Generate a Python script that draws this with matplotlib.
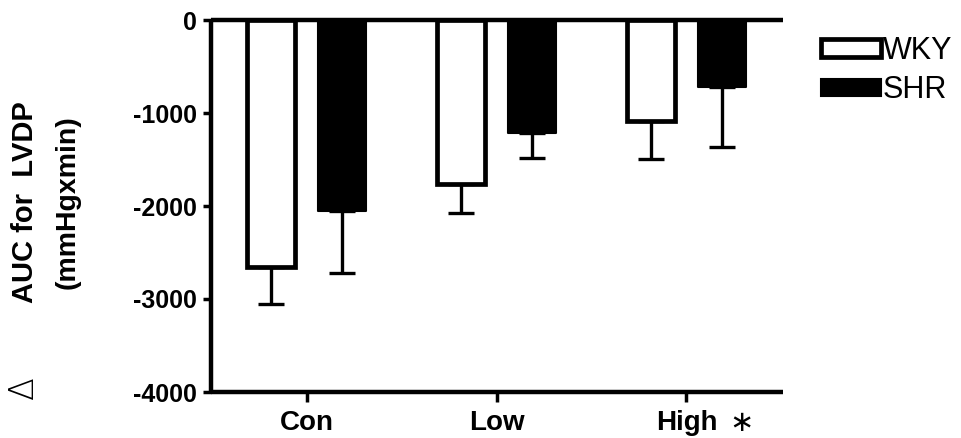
import numpy as np
import matplotlib.pyplot as plt

plt.rcParams['font.family'] = ['Liberation Sans', 'DejaVu Sans']
plt.rcParams['axes.unicode_minus'] = False

groups = ['Con', 'Low', 'High']
wky = [-2660, -1760, -1090]
wky_err = [390, 320, 400]
shr = [-2050, -1220, -720]
shr_err = [670, 260, 650]

x = np.arange(len(groups))
w = 0.25
off = 0.187

fig = plt.figure(figsize=(9.61, 4.38), dpi=100)
ax = fig.add_axes([211/961, 46/438, 572/961, 372/438])

lw = 3.2
ax.bar(x - off, wky, w, color='white', edgecolor='black', linewidth=3.4, zorder=3)
ax.bar(x + off, shr, w, color='black', edgecolor='black', linewidth=1.5,
       joinstyle='round', zorder=3)
ax.errorbar(x - off, wky, yerr=[wky_err, [0]*3], fmt='none', ecolor='black',
            elinewidth=2.4, capsize=9.5, capthick=2.4, zorder=2)
ax.errorbar(x + off, shr, yerr=[shr_err, [0]*3], fmt='none', ecolor='black',
            elinewidth=2.4, capsize=9.5, capthick=2.4, zorder=2)

ax.set_xlim(-0.503, 2.508)
ax.set_ylim(-4000, 0)
ax.set_yticks([0, -1000, -2000, -3000, -4000])
ax.set_xticks(x)
ax.set_xticklabels(groups, fontsize=20, fontweight='bold')
for t in ax.get_yticklabels():
    t.set_fontsize(18)
    t.set_fontweight('bold')
ax.tick_params(axis='y', length=6, width=2.5, pad=4)
ax.tick_params(axis='x', length=7, width=2.5, pad=6)
ax.spines['right'].set_visible(False)
for s in ['left', 'bottom', 'top']:
    ax.spines[s].set_linewidth(lw)
    ax.spines[s].set_capstyle('butt')

fig.text(25/961, 1 - 202/438, 'AUC for  LVDP', rotation=90, fontsize=21,
         fontweight='bold', ha='center', va='center')
fig.text(68/961, 1 - 202/438, '(mmHgxmin)', rotation=90, fontsize=20.5,
         fontweight='bold', ha='center', va='center')
fig.text(23/961, 1 - 388/438, '\u0394', rotation=90, fontsize=24,
         family='DejaVu Sans', fontweight='light', ha='center', va='center')
ax.annotate('\u2217', xy=(2.29, -4000), xytext=(0, -22), textcoords='offset points',
            fontsize=21, family='DejaVu Sans', ha='center', va='center')

leg = ax.legend(['WKY', 'SHR'], loc='upper left', bbox_to_anchor=(1.045, 0.99),
                frameon=False, fontsize=22, handlelength=1.95, handleheight=0.5,
                handletextpad=0.08, labelspacing=0.3, borderaxespad=0)

plt.savefig('out.png', dpi=100)
